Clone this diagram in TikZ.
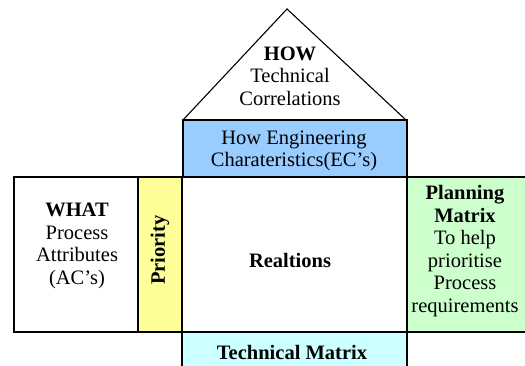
\documentclass[tikz,border=0pt]{standalone}
\usepackage{fontspec}
\setmainfont{Liberation Serif}
\definecolor{ecblue}{HTML}{99CCFF}
\definecolor{prioyel}{HTML}{FFFF99}
\definecolor{plangreen}{HTML}{CCFFCC}
\definecolor{techcyan}{HTML}{CCFFFF}
\begin{document}
\begin{tikzpicture}[x=1pt,y=-1pt,
  box/.style={draw=black,line width=1.2pt,anchor=north west,inner sep=0pt,outer sep=0pt},
  txt/.style={align=center,inner sep=0pt,font=\fontsize{20.5}{22.5}\selectfont}]
\useasboundingbox (0,0) rectangle (525,366);
\clip (0,0) rectangle (525,366);
% roof
\coordinate (apex) at (287,9);
\coordinate (roofl) at (183,120);
\coordinate (roofr) at (406,120);
\draw[line width=1.1pt,line join=miter] (roofl) -- (apex) -- (roofr);
\node[txt] (how) at (290,76) {\textbf{HOW}\\Technical\\Correlations};
% boxes
\node[box,fill=ecblue,minimum width=224pt,minimum height=57pt] (ec) at (183,120) {};
\node[box,fill=white,minimum width=124pt,minimum height=155pt] (what) at (14,177) {};
\node[box,fill=prioyel,minimum width=44pt,minimum height=155pt] (prio) at (138,177) {};
\node[box,fill=white,minimum width=225pt,minimum height=155pt] (rel) at (182,177) {};
\node[box,fill=plangreen,minimum width=130pt,minimum height=155pt] (plan) at (407,177) {};
\node[box,fill=techcyan,minimum width=225pt,minimum height=50pt] (tech) at (182,332) {};
% texts
\node[txt] (ectxt) at (294,151) {How Engineering\\Charateristics(EC’s)};
\node[txt] (whattxt) at (77,246) {\textbf{WHAT}\\Process\\Attributes\\(AC’s)};
\node[txt,rotate=90] (priotxt) at (160,250) {\textbf{Priority}};
\node[txt] (reltxt) at (290,260) {\textbf{Realtions}};
\node[txt] (plantxt) at (465,251) {\textbf{Planning}\\\textbf{Matrix}\\To help\\prioritise\\Process\\requirements};
\node[txt] (techtxt) at (292,352) {\textbf{Technical Matrix}};
\end{tikzpicture}
\end{document}
